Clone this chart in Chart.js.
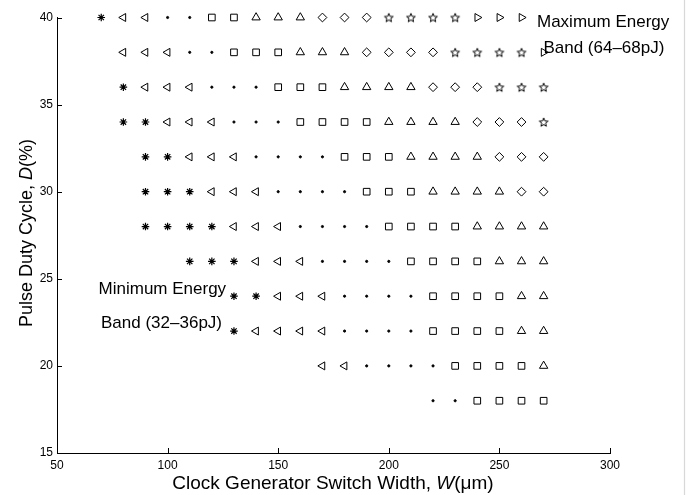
<!DOCTYPE html>
<html>
<head>
<meta charset="utf-8">
<script src="https://cdn.jsdelivr.net/npm/chart.js@4.4.1/dist/chart.umd.min.js"></script>
<style>
  html, body { margin: 0; padding: 0; background: #fff; }
  #wrap { width: 688px; height: 495px; position: relative; }
</style>
</head>
<body>
<div id="wrap"><canvas id="chart"></canvas></div>
<script>
// Switch widths W (um), one column each
const widths = [70, 80, 90, 100, 110, 120, 130, 140, 150, 160, 170, 180, 190, 200, 210, 220, 230, 240, 250, 260, 270];
// Duty cycles D (%), top row first
const dutyCycles = [40, 38, 36, 34, 32, 30, 28, 26, 24, 22, 20, 18];
// Energy band marker per cell (one char per width), ' ' = no point
// * < . s ^ d p >  (lowest band -> highest band)
const bandRows = [
    '*<<..ss^^^dddpppp>>> ',
    ' <<<..sss^^^ddddpppp>',
    ' *<<<...sss^^^^dddppp',
    ' **<<<...ssss^^^^dddp',
    '  **<<<....sss^^^^ddd',
    '  ***<<<....sss^^^^dd',
    '  ****<<<....ssss^^^^',
    '    ***<<<....ssss^^^',
    '      **<<<....ssss^^',
    '      *<<<<....ssss^^',
    '          <<....ssss^',
    '               ..ssss'
];
const bandOrder = ['*', '<', '.', 's', '^', 'd', 'p', '>'];
const xTicks = [50, 100, 150, 200, 250, 300];
const yTicks = [15, 20, 25, 30, 35, 40];

const xTitle = [['Clock Generator Switch Width, ', false], ['W', true], ['(\u03bcm)', false]];
const yTitle = [['Pulse Duty Cycle, ', false], ['D', true], ['(%)', false]];
// band notes: text with its anchor (W, D) in data units
const notes = [
    { text: 'Maximum Energy', w: 267, d: 39.45 },
    { text: 'Band (64\u201368pJ)', w: 269.9, d: 37.95 },
    { text: 'Minimum Energy', w: 68.8, d: 24.1 },
    { text: 'Band (32\u201336pJ)', w: 69.9, d: 22.15 }
];

const FONT = "'Liberation Sans', Arial, Helvetica, sans-serif";
Chart.defaults.font.family = FONT;
Chart.defaults.color = '#000';

// pentagram marker
function makePentagram(size, outer, inner) {
    const c = document.createElement('canvas');
    c.width = size; c.height = size;
    const g = c.getContext('2d');
    const cx = size / 2, cy = size / 2 + 0.5;
    g.beginPath();
    for (let i = 0; i < 10; i++) {
        const r = i % 2 ? inner : outer;
        const a = -Math.PI / 2 + i * Math.PI / 5;
        const px = cx + r * Math.cos(a), py = cy + r * Math.sin(a);
        i ? g.lineTo(px, py) : g.moveTo(px, py);
    }
    g.closePath();
    g.strokeStyle = '#000';
    g.lineWidth = 1;
    g.stroke();
    return c;
}
const pentagram = makePentagram(12, 4.6, 2);

const markerStyle = {
    '*': { pointStyle: 'star', radius: 3.8, rotation: 0, width: 1.2 },
    '<': { pointStyle: 'triangle', radius: 4.6, rotation: -90 },
    '.': { pointStyle: 'circle', radius: 1.1, rotation: 0, fill: true },
    's': { pointStyle: 'rect', radius: 4.7, rotation: 0 },
    '^': { pointStyle: 'triangle', radius: 4.8, rotation: 0 },
    'd': { pointStyle: 'rectRot', radius: 4.4, rotation: 0 },
    'p': { pointStyle: pentagram, radius: 5, rotation: 0 },
    '>': { pointStyle: 'triangle', radius: 4.6, rotation: 90 }
};

const datasets = bandOrder.map(code => {
    const pts = [];
    bandRows.forEach((row, ri) => {
        row.split('').forEach((ch, ci) => {
            if (ch === code) pts.push({ x: widths[ci], y: dutyCycles[ri] });
        });
    });
    const m = markerStyle[code];
    return {
        label: code,
        data: pts,
        pointStyle: m.pointStyle,
        pointRadius: m.radius,
        pointRotation: m.rotation,
        pointBorderColor: '#000',
        pointBorderWidth: m.width || 1,
        pointBackgroundColor: m.fill ? '#000' : 'rgba(0,0,0,0)',
        showLine: false,
        clip: false
    };
});

function drawRuns(ctx, runs, x, y, size) {
    const fonts = runs.map(r => (r[1] ? 'italic ' : '') + size + 'px ' + FONT);
    let total = 0;
    runs.forEach((r, i) => { ctx.font = fonts[i]; total += ctx.measureText(r[0]).width; });
    let cx = x - total / 2;
    ctx.textAlign = 'left';
    runs.forEach((r, i) => {
        ctx.font = fonts[i];
        ctx.fillText(r[0], cx, y);
        cx += ctx.measureText(r[0]).width;
    });
}

const inwardTicks = {
    id: 'inwardTicks',
    afterDraw(chart) {
        const { ctx, chartArea, scales: { x, y } } = chart;
        ctx.save();
        ctx.strokeStyle = '#000';
        ctx.lineWidth = 1;
        ctx.beginPath();
        xTicks.forEach(v => {
            const px = Math.round(x.getPixelForValue(v)) + 0.5;
            ctx.moveTo(px, chartArea.bottom);
            ctx.lineTo(px, chartArea.bottom - 5);
        });
        yTicks.forEach(v => {
            const py = Math.round(y.getPixelForValue(v)) + 0.5;
            ctx.moveTo(chartArea.left, py);
            ctx.lineTo(chartArea.left + 5, py);
        });
        ctx.stroke();
        ctx.restore();
    }
};

const textLayer = {
    id: 'textLayer',
    afterDraw(chart) {
        const { ctx, chartArea, scales: { x, y } } = chart;
        ctx.save();
        ctx.fillStyle = '#000';
        ctx.textBaseline = 'alphabetic';

        drawRuns(ctx, xTitle, (chartArea.left + chartArea.right) / 2 - 0.5, 489, 19);

        ctx.save();
        ctx.translate(32, 233);
        ctx.rotate(-Math.PI / 2);
        drawRuns(ctx, yTitle, 0, 0, 18);
        ctx.restore();

        ctx.font = '17px ' + FONT;
        ctx.textAlign = 'left';
        notes.forEach(n => {
            ctx.fillText(n.text, x.getPixelForValue(n.w), y.getPixelForValue(n.d));
        });

        // figure frame edge on the right
        ctx.strokeStyle = '#d8d8d8';
        ctx.beginPath();
        ctx.moveTo(684.5, 0);
        ctx.lineTo(684.5, chart.height);
        ctx.stroke();
        ctx.restore();
    }
};

new Chart(document.getElementById('chart'), {
    type: 'scatter',
    data: { datasets },
    options: {
        responsive: true,
        maintainAspectRatio: false,
        animation: false,
        layout: { padding: { left: 0, top: 17.5, right: 78, bottom: 0 } },
        plugins: { legend: { display: false }, tooltip: { enabled: false } },
        scales: {
            x: {
                type: 'linear', min: 50, max: 300,
                afterBuildTicks: s => { s.ticks = xTicks.map(v => ({ value: v })); },
                afterFit: s => { s.height = 42; },
                grid: { display: false, drawTicks: false },
                border: { display: true, color: '#000', width: 1 },
                ticks: { color: '#000', font: { size: 12 }, padding: 5, maxRotation: 0, autoSkip: false }
            },
            y: {
                type: 'linear', min: 15, max: 40,
                afterBuildTicks: s => { s.ticks = yTicks.map(v => ({ value: v })); },
                afterFit: s => { s.width = 57; },
                grid: { display: false, drawTicks: false },
                border: { display: true, color: '#000', width: 1 },
                ticks: { color: '#000', font: { size: 12 }, padding: 4, autoSkip: false }
            }
        }
    },
    plugins: [inwardTicks, textLayer]
});
</script>
</body>
</html>
